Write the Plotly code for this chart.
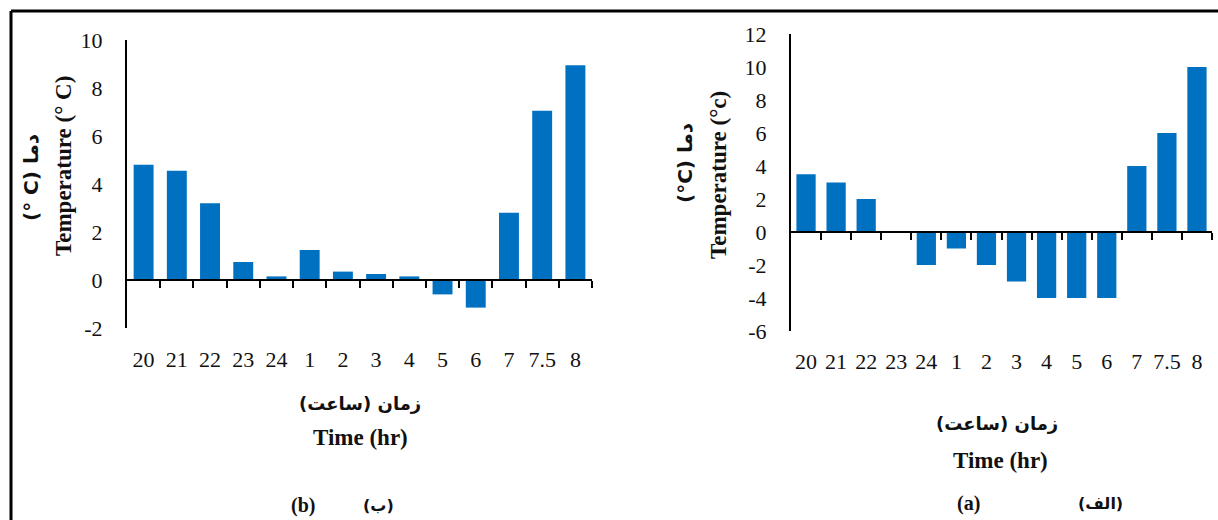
import plotly.graph_objects as go

categories = ["20", "21", "22", "23", "24", "1", "2", "3", "4", "5", "6", "7", "7.5", "8"]
temp_b = [4.8, 4.55, 3.2, 0.75, 0.15, 1.25, 0.35, 0.25, 0.15, -0.6, -1.15, 2.8, 7.05, 8.95]
temp_a = [3.5, 3.0, 2.0, 0.0, -2.0, -1.0, -2.0, -3.0, -4.0, -4.0, -4.0, 4.0, 6.0, 10.0]

range_b = [-2, 10]
range_a = [-6, 12]
yticks_b = [-2, 0, 2, 4, 6, 8, 10]
yticks_a = [-6, -4, -2, 0, 2, 4, 6, 8, 10, 12]

W, H = 1218, 520
BAR = "#0070C0"
SERIF = "Liberation Serif, Times New Roman, serif"
ARAB = "DejaVu Sans, Liberation Serif, serif"

# domains (paper fractions)
xd_b = [127 / W, 592 / W]
yd_b = [1 - 328 / H, 1 - 40 / H]
xd_a = [791 / W, 1212 / W]
yd_a = [1 - 331 / H, 1 - 34 / H]


def zero_pos(yd, rng):
    return yd[0] + (yd[1] - yd[0]) * (0 - rng[0]) / (rng[1] - rng[0])


n = len(categories)
bound_vals = [i + 0.5 for i in range(n)]

fig = go.Figure()
fig.add_trace(go.Bar(x=categories, y=temp_b, marker=dict(color=BAR, line=dict(width=0)),
                     width=0.6, xaxis="x", yaxis="y", showlegend=False))
fig.add_trace(go.Bar(x=categories, y=temp_a, marker=dict(color=BAR, line=dict(width=0)),
                     width=0.64, xaxis="x3", yaxis="y3", showlegend=False))

tickfont = dict(family=SERIF, size=22, color="#111")

fig.update_layout(
    width=W, height=H, margin=dict(l=0, r=0, t=0, b=0, autoexpand=False),
    paper_bgcolor="white", plot_bgcolor="white",
    # left chart (b)
    xaxis=dict(domain=xd_b, anchor="y", type="category", categoryorder="array",
               categoryarray=categories, range=[-0.5, n - 0.5], showline=False,
               ticks="", showgrid=False, tickfont=tickfont, ticklabelstandoff=16,
               zeroline=False, automargin=False),
    xaxis2=dict(overlaying="x", anchor="free", position=zero_pos(yd_b, range_b),
                range=[-0.5, n - 0.5], tickvals=bound_vals, showticklabels=False,
                ticks="outside", ticklen=7, tickwidth=2, tickcolor="black",
                showline=True, linecolor="black", linewidth=2, showgrid=False,
                zeroline=False, automargin=False),
    yaxis=dict(domain=yd_b, anchor="x", range=range_b, tickvals=yticks_b,
               ticktext=[str(v) for v in yticks_b], showgrid=False,
               zeroline=False, showline=True, linecolor="black", linewidth=2,
               ticks="", tickfont=tickfont, ticklabelstandoff=18, automargin=False),
    # right chart (a)
    xaxis3=dict(domain=xd_a, anchor="y3", type="category", categoryorder="array",
                categoryarray=categories, range=[-0.5, n - 0.5], showline=False,
                ticks="", showgrid=False, tickfont=tickfont, ticklabelstandoff=15,
                zeroline=False, automargin=False),
    xaxis4=dict(overlaying="x3", anchor="free", position=zero_pos(yd_a, range_a),
                range=[-0.5, n - 0.5], tickvals=bound_vals, showticklabels=False,
                ticks="outside", ticklen=7, tickwidth=2, tickcolor="black",
                showline=True, linecolor="black", linewidth=2, showgrid=False,
                zeroline=False, automargin=False),
    yaxis3=dict(domain=yd_a, anchor="x3", range=range_a, tickvals=yticks_a,
                ticktext=[str(v) for v in yticks_a], showgrid=False,
                zeroline=False, showline=True, linecolor="black", linewidth=2,
                ticks="", tickfont=tickfont, ticklabelstandoff=18, automargin=False),
)

# invisible traces so overlay axes render
fig.add_trace(go.Scatter(x=[0], y=[0], xaxis="x2", yaxis="y", mode="markers",
                         marker=dict(opacity=0), showlegend=False, hoverinfo="skip"))
fig.add_trace(go.Scatter(x=[0], y=[0], xaxis="x4", yaxis="y3", mode="markers",
                         marker=dict(opacity=0), showlegend=False, hoverinfo="skip"))

bold = dict(family=SERIF, size=23, color="#111")
arab = dict(family=ARAB, size=18, color="#111")
arab_y = dict(family=ARAB, size=20, color="#111")


def txt(x, y, s, font, angle=0):
    fig.add_annotation(x=x / W, y=1 - y / H, xref="paper", yref="paper", text=s,
                       showarrow=False, font=font, textangle=angle,
                       xanchor="center", yanchor="middle")


# left chart texts
txt(63, 166, "<b>Temperature (° C)</b>", bold, -90)
txt(31, 178, "<b>(° C) دما</b>", arab_y, -90)
txt(360, 403, "<b>زمان (ساعت)</b>", arab)
txt(360, 437, "<b>Time (hr)</b>", bold)
txt(303, 505, "<b>(b)</b>", dict(family=SERIF, size=20, color="#111"))
txt(378, 505, "<b>(ب)</b>", dict(family=ARAB, size=16, color="#111"))

# right chart texts
txt(718, 175, "<b>Temperature (°c)</b>", bold, -90)
txt(685, 163, "<b>(°C) دما</b>", arab_y, -90)
txt(997, 423, "<b>زمان (ساعت)</b>", arab)
txt(1000, 460, "<b>Time (hr)</b>", bold)
txt(968, 503, "<b>(a)</b>", dict(family=SERIF, size=20, color="#111"))
txt(1100, 503, "<b>(الف)</b>", dict(family=ARAB, size=16, color="#111"))

# outer frame
fig.add_shape(type="line", xref="paper", yref="paper", x0=11 / W, x1=1, y0=1 - 11 / H, y1=1 - 11 / H,
              line=dict(color="black", width=3))
fig.add_shape(type="line", xref="paper", yref="paper", x0=11 / W, x1=11 / W, y0=0, y1=1 - 11 / H,
              line=dict(color="black", width=3))

fig.write_html("out.html", config={"displayModeBar": False},
               post_script="document.body.style.margin='0';")
